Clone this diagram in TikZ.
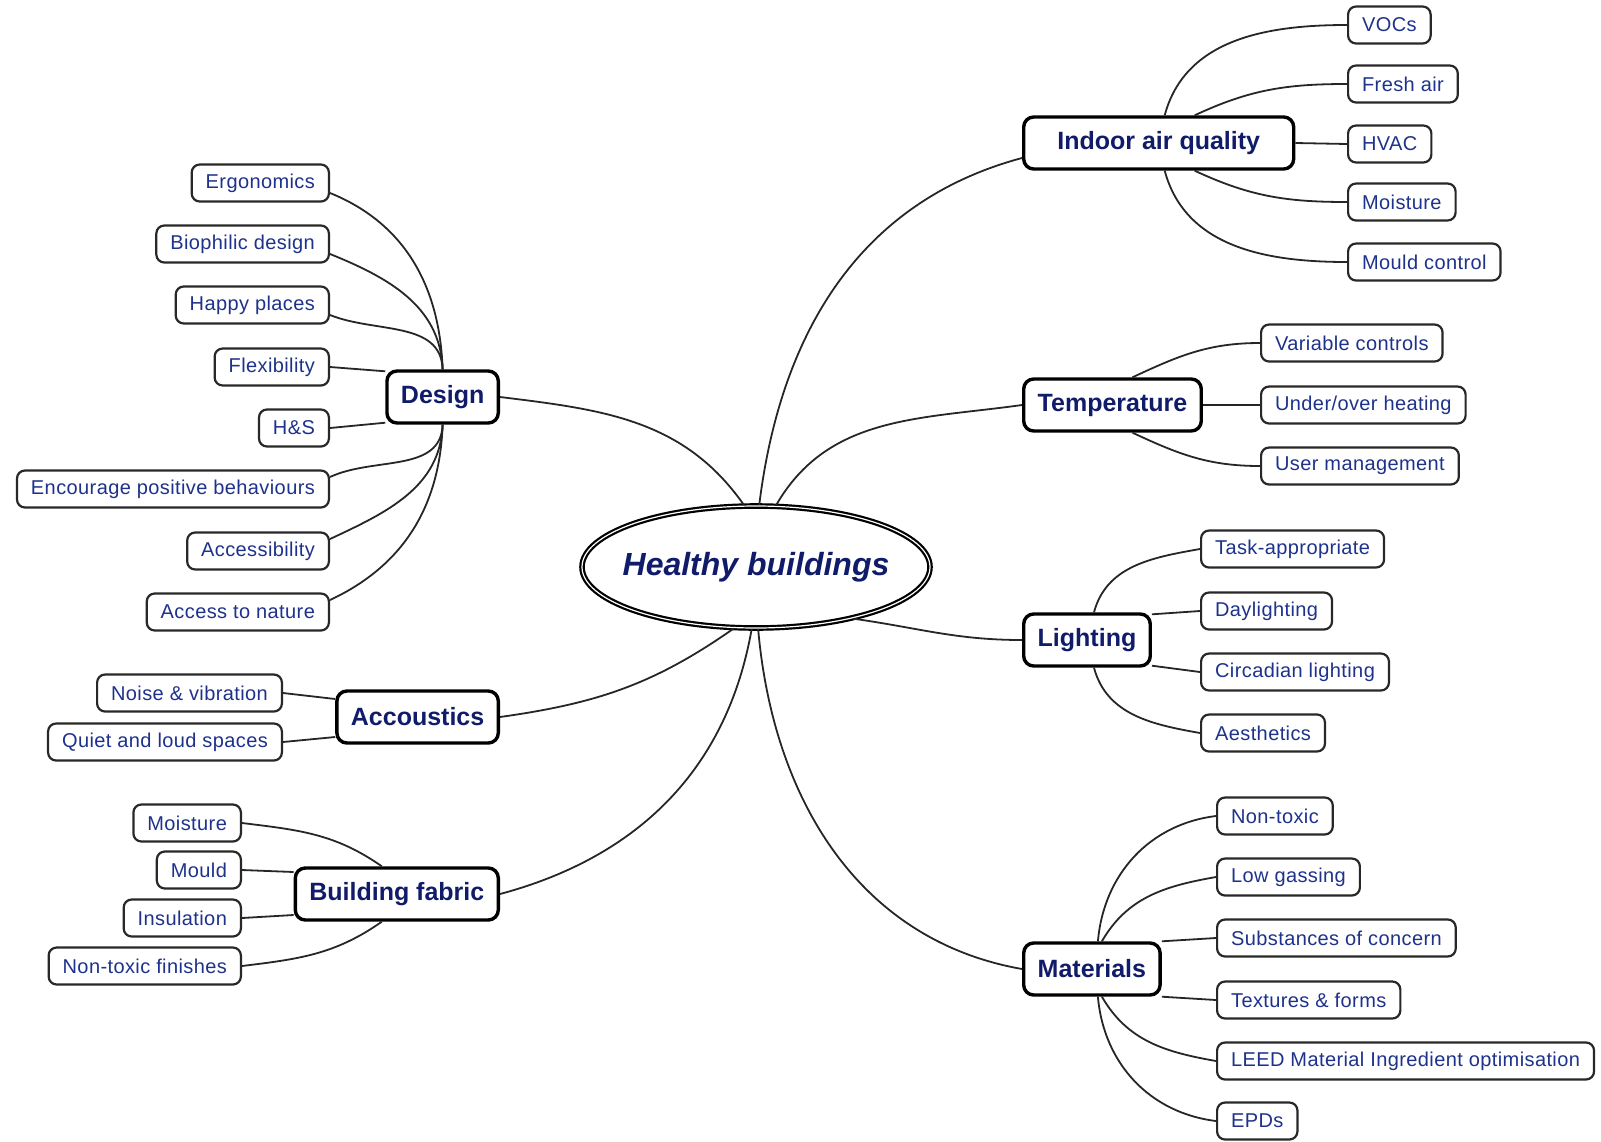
\documentclass[tikz,border=0pt]{standalone}
\usepackage{fontspec}
\setmainfont{Liberation Sans}
\newfontfamily\leaffont[LetterSpace=2.0]{Liberation Sans}
\usepackage{tikz}
\usetikzlibrary{shapes.geometric}
\usepackage{xcolor}
\definecolor{leafblue}{RGB}{30,50,140}
\definecolor{topicnavy}{RGB}{16,28,105}
\definecolor{boxgray}{RGB}{40,40,40}

\begin{document}
\begin{tikzpicture}[x=0.5pt, y=0.5pt,
    hub/.style={ellipse, draw=black, line width=1.1pt, double, double distance=0.6pt, fill=white, inner sep=0pt, minimum width=174pt, minimum height=61pt, text=topicnavy, font=\fontsize{16}{19}\selectfont\bfseries\itshape},
    topic/.style={draw=black, line width=1.7pt, rounded corners=5pt, fill=white, minimum height=26pt, inner xsep=7pt, text=topicnavy, font=\fontsize{12.5}{15}\selectfont\bfseries},
    leaf/.style={draw=boxgray, line width=1.1pt, rounded corners=4pt, fill=white, minimum height=18.5pt, inner xsep=7pt, inner ysep=0pt, text=leafblue, font=\leaffont\fontsize{10}{12}\selectfont},
    link/.style={line width=0.9pt, black!85}]
    \useasboundingbox (0,0) rectangle (1601,-1141);

    % Centre
    \node[hub] (hb) at (756,-567) {\makebox[0pt]{Healthy buildings}};

    % Main topics
    \node[topic, anchor=west, minimum width=135pt] (iaq) at (1022,-143) {Indoor air quality};
    \node[topic, anchor=west] (temp) at (1022,-405) {Temperature};
    \node[topic, anchor=west] (light) at (1022,-640) {Lighting};
    \node[topic, anchor=west] (mat) at (1022,-969) {Materials};
    \node[topic, anchor=east] (design) at (500,-397) {Design};
    \node[topic, anchor=east] (acou) at (500,-717) {Accoustics};
    \node[topic, anchor=east] (fabric) at (500,-894) {Building fabric};

    % Centre to topics
    \draw[link] (hb.101) to[out=125,in=-7] (design.east);
    \draw[link] (hb.87) to[out=83,in=195] ([yshift=-7.5pt]iaq.west);
    \draw[link] (hb.72) to[out=60,in=188] (temp.west);
    \draw[link] (hb.-28) to[out=-8,in=180] (light.west);
    \draw[link] (hb.-88) to[out=-85,in=170] (mat.west);
    \draw[link] (hb.-94) to[out=-100,in=15] (fabric.east);
    \draw[link] (hb.-110) to[out=-145,in=8] (acou.east);

    % Design
    \foreach \n/\y/\t in {ergo/183/Ergonomics, bioph/244/Biophilic design, happy/305/Happy places,
        flex/367/Flexibility, hs/428/H\&S, encour/489/Encourage positive behaviours,
        access/551/Accessibility, nature/612/Access to nature}
        \node[leaf, anchor=east] (\n) at (330,-\y) {\t};
    \foreach \n in {ergo,bioph,happy}
        \draw[link] (design.north) to[out=92,in=-22] ([yshift=-5pt]\n.east);
    \draw[link] (flex.east) -- ([yshift=-1pt]design.north west);
    \draw[link] (hs.east) -- ([yshift=1pt]design.south west);
    \foreach \n in {encour,access,nature}
        \draw[link] (design.south) to[out=-92,in=25] ([yshift=6pt]\n.east);

    % Accoustics
    \foreach \n/\y/\t in {noise/693/Noise \& vibration, quiet/742/Quiet and loud spaces}
        \node[leaf, anchor=east] (\n) at (283,-\y) {\t};
    \draw[link] (noise.east) -- ([yshift=9pt]acou.west);
    \draw[link] (quiet.east) -- ([yshift=-10pt]acou.west);

    % Building fabric
    \foreach \n/\y/\t in {fmoist/823/Moisture, fmould/870/Mould, insul/918/Insulation, finish/966/Non-toxic finishes}
        \node[leaf, anchor=east] (\n) at (242,-\y) {\t};
    \draw[link] ([xshift=-7.5pt]fabric.north) to[out=145,in=-7] (fmoist.east);
    \draw[link] (fmould.east) -- ([yshift=11pt]fabric.west);
    \draw[link] (insul.east) -- ([yshift=-10.5pt]fabric.west);
    \draw[link] ([xshift=-7.5pt]fabric.south) to[out=-145,in=7] (finish.east);

    % Indoor air quality
    \foreach \n/\y/\t in {vocs/25/VOCs, fresh/84/Fresh air, hvac/144/HVAC, imoist/202/Moisture, mould/262/Mould control}
        \node[leaf, anchor=west] (\n) at (1347,-\y) {\t};
    \draw[link] ([xshift=3pt]iaq.north) to[out=75,in=180] (vocs.west);
    \draw[link] ([xshift=18pt]iaq.north) to[out=25,in=180] (fresh.west);
    \draw[link] (iaq.east) -- (hvac.west);
    \draw[link] ([xshift=18pt]iaq.south) to[out=-25,in=180] (imoist.west);
    \draw[link] ([xshift=3pt]iaq.south) to[out=-75,in=180] (mould.west);

    % Temperature
    \foreach \n/\y/\t in {varctl/343/Variable controls, heating/405/{Under/over heating}, userm/466/User management}
        \node[leaf, anchor=west] (\n) at (1260,-\y) {\t};
    \draw[link] ([xshift=10pt]temp.north) to[out=25,in=180] (varctl.west);
    \draw[link] (temp.east) -- (heating.west);
    \draw[link] ([xshift=10pt]temp.south) to[out=-25,in=180] (userm.west);

    % Lighting
    \foreach \n/\y/\t in {task/549/Task-appropriate, dayl/611/Daylighting, circ/672/Circadian lighting, aesth/733/Aesthetics}
        \node[leaf, anchor=west] (\n) at (1200,-\y) {\t};
    \draw[link] ([xshift=3.5pt]light.north) to[out=75,in=190] (task.west);
    \draw[link] ([yshift=-1pt]light.north east) -- (dayl.west);
    \draw[link] ([yshift=1pt]light.south east) -- (circ.west);
    \draw[link] ([xshift=3.5pt]light.south) to[out=-75,in=170] (aesth.west);

    % Materials
    \foreach \n/\y/\t in {nontox/816/Non-toxic, lowgas/877/Low gassing, subst/938/Substances of concern,
        textures/1000/Textures \& forms, leed/1061/LEED Material Ingredient optimisation, epds/1121/EPDs}
        \node[leaf, anchor=west] (\n) at (1216,-\y) {\t};
    \draw[link] ([xshift=3pt]mat.north) to[out=85,in=187] (nontox.west);
    \draw[link] ([xshift=5pt]mat.north) to[out=60,in=190] (lowgas.west);
    \draw[link] (mat.north east) -- (subst.west);
    \draw[link] (mat.south east) -- (textures.west);
    \draw[link] ([xshift=5pt]mat.south) to[out=-60,in=170] (leed.west);
    \draw[link] ([xshift=3pt]mat.south) to[out=-85,in=173] (epds.west);
\end{tikzpicture}
\end{document}
